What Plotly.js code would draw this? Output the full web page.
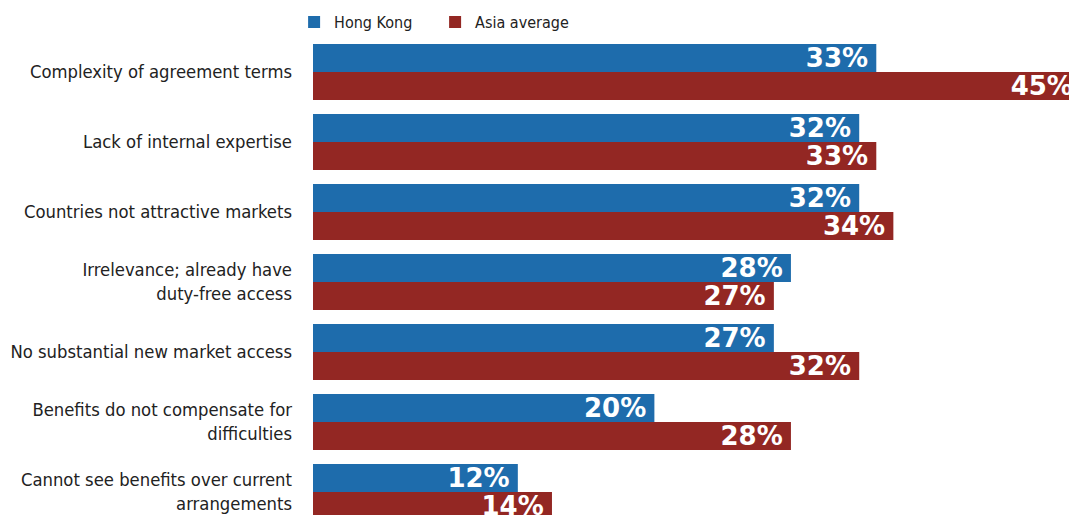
<!DOCTYPE html>
<html>
<head>
<meta charset="utf-8">
<script src="https://cdn.plot.ly/plotly-3.0.1.min.js"></script>
<style>html,body{margin:0;padding:0;background:#fff;}#chart{width:1069px;height:515px;}</style>
</head>
<body>
<div id="chart"></div>
<script>
const categories = [
  "Complexity of agreement terms",
  "Lack of internal expertise",
  "Countries not attractive markets",
  "Irrelevance; already have<br>duty-free access",
  "No substantial new market access",
  "Benefits do not compensate for<br>difficulties",
  "Cannot see benefits over current<br>arrangements"
];
const seriesNames = ["Hong Kong", "Asia average"];
const hongKong = [33, 32, 32, 28, 27, 20, 12];
const asiaAverage = [45, 33, 34, 27, 32, 28, 14];

const labelFont = "'Liberation Sans Narrow', 'DejaVu Sans Condensed', 'Arial Narrow', sans-serif";
const barTextFont = {family: "'DejaVu Sans', Verdana, sans-serif", size: 26, color: "#ffffff", weight: "bold"};

function mk(name, vals, color) {
  return {
    type: "bar", orientation: "h", name: name,
    y: categories, x: vals,
    text: vals.map(v => v + "%\u2009"),
    textposition: "inside", insidetextanchor: "end",
    constraintext: "none", cliponaxis: true,
    textfont: barTextFont,
    marker: {color: color, line: {width: 0}},
    hoverinfo: "none"
  };
}

const data = [
  mk(seriesNames[0], hongKong, "#1e6cac"),
  mk(seriesNames[1], asiaAverage, "#932723")
];

const layout = {
  width: 1069, height: 515,
  margin: {l: 313, r: 0, t: 37, b: 0, pad: 0},
  paper_bgcolor: "#ffffff", plot_bgcolor: "#ffffff",
  barmode: "group", bargap: 0.2, bargroupgap: 0,
  showlegend: true,
  legend: {orientation: "h", x: -0.025, xanchor: "left", y: 1.031, yanchor: "middle",
           entrywidth: 96, entrywidthmode: "pixels",
           font: {family: labelFont, size: 16, color: "#222222"}, traceorder: "normal"},
  xaxis: {range: [0, 44.29], showgrid: false, zeroline: false, showticklabels: false, showline: false, ticks: "", fixedrange: true},
  yaxis: {type: "category", range: [6.329, -0.5], showgrid: false, zeroline: false, showline: false, ticks: "",
          tickfont: {family: labelFont, size: 18.3, color: "#222222"}, ticklabelstandoff: 20, fixedrange: true},
  font: {family: labelFont}
};

Plotly.newPlot("chart", data, layout, {displayModeBar: false, staticPlot: true});
</script>
</body>
</html>
